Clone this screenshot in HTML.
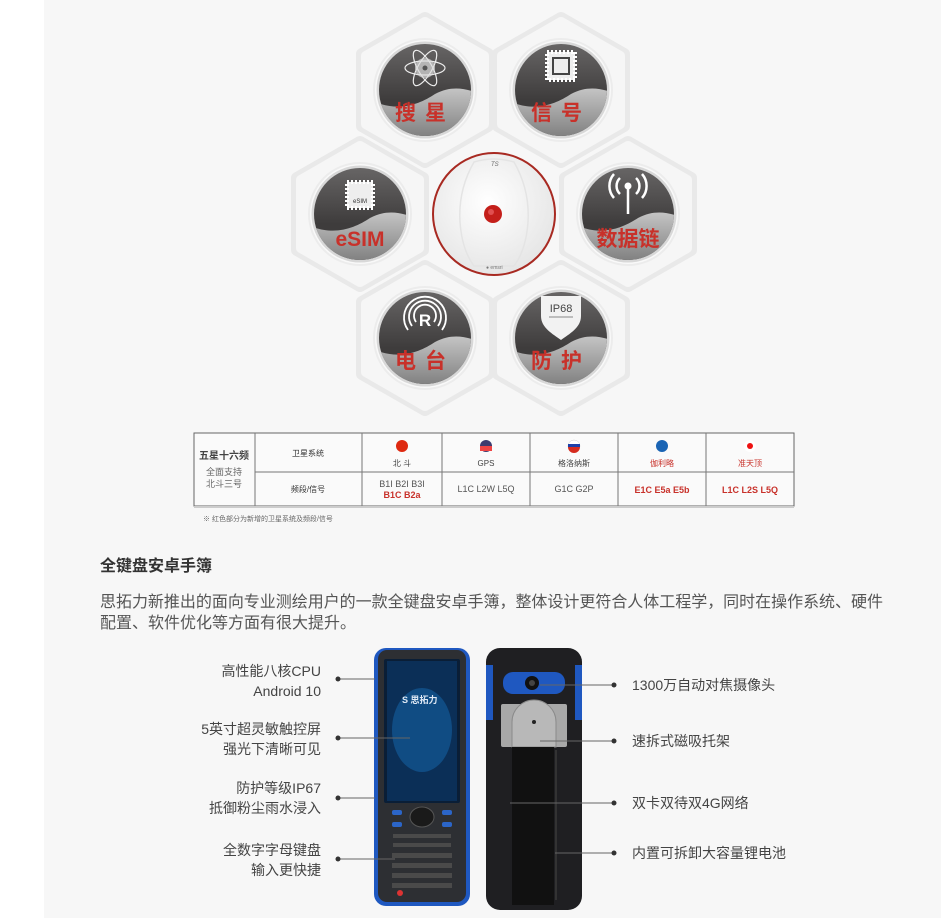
<!DOCTYPE html>
<html><head><meta charset="utf-8">
<style>
html,body{margin:0;padding:0}
body{width:941px;height:918px;overflow:hidden;background:#fff;position:relative;font-family:"Liberation Sans","Noto Sans CJK SC",sans-serif}
#bg{position:absolute;left:44px;top:0;width:897px;height:918px;background:#f7f7f7}
svg{position:absolute;left:0;top:0}
</style></head><body>
<div id="bg"></div>
<svg width="941" height="918" viewBox="0 0 941 918" xmlns="http://www.w3.org/2000/svg" font-family="Liberation Sans, Noto Sans CJK SC, sans-serif">
<defs>
<linearGradient id="darkg" x1="0" y1="0" x2="0" y2="1"><stop offset="0" stop-color="#6a6868"/><stop offset="0.6" stop-color="#3e3c3c"/></linearGradient>
<linearGradient id="lowg" x1="0" y1="0" x2="0" y2="1"><stop offset="0" stop-color="#c4c4c4"/><stop offset="1" stop-color="#7c7c7c"/></linearGradient>
<radialGradient id="devg" cx="0.45" cy="0.4" r="0.6"><stop offset="0" stop-color="#ffffff"/><stop offset="1" stop-color="#e6e6e6"/></radialGradient>
<clipPath id="cc"><circle cx="0" cy="0" r="46"/></clipPath>
<g id="hex"><path d="M0,-72 L63,-36 L63,36 L0,72 L-63,36 L-63,-36 Z" fill="#f1f1f1" stroke="#e9e9e9" stroke-width="12" stroke-linejoin="round"/><path d="M0,-68 L59,-34 L59,34 L0,68 L-59,34 L-59,-34 Z" fill="#f6f6f6" stroke="#f6f6f6" stroke-width="10" stroke-linejoin="round"/></g>
<g id="badge">
<use href="#hex"/>
<circle r="52" fill="#ececec"/>
<circle r="50" fill="#f9f9f9"/>
<circle r="48.5" fill="#d8d8d8"/>
<g clip-path="url(#cc)"><rect x="-50" y="-50" width="100" height="100" fill="url(#darkg)"/>
<path d="M-50,12 C-25,22 -5,14 10,4 C25,-4 38,-2 50,2 L50,50 L-50,50 Z" fill="url(#lowg)"/></g>
</g>
</defs>

<g transform="translate(425,90)"><use href="#badge"/>
<g stroke="#eee" fill="none" stroke-width="1.2"><ellipse cy="-22" rx="20" ry="7"/><ellipse cy="-22" rx="20" ry="7" transform="rotate(60 0 -22)"/><ellipse cy="-22" rx="20" ry="7" transform="rotate(-60 0 -22)"/></g><circle cy="-22" r="10" fill="#ddd" opacity=".7"/><circle cy="-22" r="2.5" fill="#555"/>
<text x="0" y="30" text-anchor="middle" font-size="21" font-weight="bold" fill="#c8312a" letter-spacing="9">搜星</text></g>
<g transform="translate(561,90)"><use href="#badge"/>
<rect x="-14" y="-38" width="28" height="28" fill="#eee" stroke="#fff" stroke-width="4" stroke-dasharray="2 2"/><rect x="-8" y="-32" width="16" height="16" fill="none" stroke="#444" stroke-width="2"/>
<text x="0" y="30" text-anchor="middle" font-size="21" font-weight="bold" fill="#c8312a" letter-spacing="9">信号</text></g>
<g transform="translate(360,214)"><use href="#badge"/>
<rect x="-13" y="-32" width="26" height="26" fill="#eee" stroke="#fff" stroke-width="4" stroke-dasharray="2 2"/><text x="0" y="-11" text-anchor="middle" font-size="6" fill="#333">eSIM</text>
<text x="0" y="32" text-anchor="middle" font-size="21" font-weight="bold" fill="#c8312a">eSIM</text></g>
<g transform="translate(628,214)"><use href="#badge"/>
<g stroke="#fff" fill="none" stroke-width="2.5"><path d="M-8,-36 a11,11 0 0,0 0,16"/><path d="M8,-36 a11,11 0 0,1 0,16"/><path d="M-14,-40 a18,18 0 0,0 0,24"/><path d="M14,-40 a18,18 0 0,1 0,24"/><line x1="0" y1="-28" x2="0" y2="0"/></g><circle cy="-28" r="3.5" fill="#fff"/>
<text x="0" y="32" text-anchor="middle" font-size="21" font-weight="bold" fill="#c8312a">数据链</text></g>
<g transform="translate(425,338)"><use href="#badge"/>
<g stroke="#fff" fill="none" stroke-width="1.8"><path d="M-13,-12 a16,16 0 1,1 26,0"/><path d="M-17,-8 a21,21 0 1,1 34,0"/><path d="M-9,-16 a11,11 0 1,1 18,0"/></g><text x="0" y="-12" text-anchor="middle" font-size="17" font-weight="bold" fill="#fff">R</text>
<text x="0" y="30" text-anchor="middle" font-size="21" font-weight="bold" fill="#c8312a" letter-spacing="9">电台</text></g>
<g transform="translate(561,338)"><use href="#badge"/>
<path d="M-20,-42 L20,-42 L20,-22 C20,-10 8,-4 0,2 C-8,-4 -20,-10 -20,-22 Z" fill="#f2f2f2"/><text x="0" y="-26" text-anchor="middle" font-size="11" fill="#444">IP68</text><line x1="-12" y1="-21" x2="12" y2="-21" stroke="#888"/>
<text x="0" y="30" text-anchor="middle" font-size="21" font-weight="bold" fill="#c8312a" letter-spacing="9">防护</text></g>

<circle cx="494" cy="214" r="61" fill="url(#devg)" stroke="#a82a22" stroke-width="2"/>
<path d="M474,162 Q494,156 514,162 Q530,190 528,222 Q526,250 514,266 L474,266 Q462,250 460,222 Q458,190 474,162 Z" fill="none" stroke="#e4e4e4" stroke-width="1.5"/>
<circle cx="493" cy="214" r="9" fill="#c41f1a"/><circle cx="491" cy="212" r="3" fill="#e05050"/>
<text x="491" y="166" font-size="6" font-style="italic" fill="#666">TS</text>
<text x="486" y="269" font-size="5" fill="#777">● emsri</text>

<g>
<rect x="194" y="433" width="600" height="73" fill="#fafafa" stroke="#666" stroke-width="1"/>
<g stroke="#777" stroke-width="1"><line x1="255" y1="433" x2="255" y2="506"/><line x1="362" y1="433" x2="362" y2="506"/><line x1="442" y1="433" x2="442" y2="506"/><line x1="530" y1="433" x2="530" y2="506"/><line x1="618" y1="433" x2="618" y2="506"/><line x1="706" y1="433" x2="706" y2="506"/><line x1="255" y1="472" x2="794" y2="472"/></g>
<line x1="194" y1="507" x2="794" y2="507" stroke="#ccc" stroke-width="2"/>
<text x="224" y="459" text-anchor="middle" font-size="10" font-weight="bold" fill="#444">五星十六频</text>
<text x="224" y="475" text-anchor="middle" font-size="9" fill="#666">全面支持</text>
<text x="224" y="487" text-anchor="middle" font-size="9" fill="#666">北斗三号</text>
<text x="308" y="456" text-anchor="middle" font-size="8" fill="#333">卫星系统</text>
<text x="308" y="492" text-anchor="middle" font-size="8" fill="#333">频段/信号</text>
<circle cx="402" cy="446" r="6" fill="#de2910"/>
<circle cx="486" cy="446" r="6" fill="#3c3b6e"/><rect x="480" y="446" width="12" height="5" fill="#e44"/>
<circle cx="574" cy="446" r="6" fill="#fff" stroke="#ccc" stroke-width=".5"/><rect x="568" y="444" width="12" height="3" fill="#1c3fa8"/><path d="M568,447 h12 a6,6 0 0,1 -12,0z" fill="#d52b1e"/>
<circle cx="662" cy="446" r="6" fill="#1a64b4"/>
<circle cx="750" cy="446" r="6" fill="#fff"/><circle cx="750" cy="446" r="3" fill="#e11"/>
<text x="402" y="466" text-anchor="middle" font-size="8" fill="#444">北 斗</text>
<text x="486" y="466" text-anchor="middle" font-size="8" fill="#444">GPS</text>
<text x="574" y="466" text-anchor="middle" font-size="8" fill="#444">格洛纳斯</text>
<text x="662" y="466" text-anchor="middle" font-size="8" fill="#c8312a">伽利略</text>
<text x="750" y="466" text-anchor="middle" font-size="8" fill="#c8312a">准天顶</text>
<text x="402" y="487" text-anchor="middle" font-size="9" fill="#555">B1I B2I B3I</text>
<text x="402" y="498" text-anchor="middle" font-size="9" font-weight="bold" fill="#c8312a">B1C B2a</text>
<text x="486" y="492" text-anchor="middle" font-size="9" fill="#555">L1C L2W L5Q</text>
<text x="574" y="492" text-anchor="middle" font-size="9" fill="#555">G1C G2P</text>
<text x="662" y="493" text-anchor="middle" font-size="9" font-weight="bold" fill="#c8312a">E1C E5a E5b</text>
<text x="750" y="493" text-anchor="middle" font-size="9" font-weight="bold" fill="#c8312a">L1C L2S L5Q</text>
<text x="203" y="521" font-size="7" fill="#666">※   红色部分为新增的卫星系统及频段/信号</text>
</g>

<text x="100" y="571" font-size="16" font-weight="bold" fill="#333">全键盘安卓手簿</text>
<text x="100" y="607" font-size="16" fill="#555" textLength="783">思拓力新推出的面向专业测绘用户的一款全键盘安卓手簿，整体设计更符合人体工程学，同时在操作系统、硬件</text>
<text x="100" y="628" font-size="16" fill="#555">配置、软件优化等方面有很大提升。</text>

<rect x="374" y="648" width="96" height="258" rx="12" fill="#1f58c0"/>
<rect x="378" y="650" width="88" height="252" rx="9" fill="#2d2f33"/>
<rect x="384" y="659" width="76" height="144" rx="2" fill="#0a1e36"/>
<rect x="387" y="661" width="70" height="140" fill="#0b2f57"/>
<ellipse cx="422" cy="730" rx="30" ry="42" fill="#1565a8" opacity=".55"/>
<text x="402" y="703" font-size="9" font-weight="bold" fill="#dfe9f5">S 思拓力</text>
<ellipse cx="422" cy="817" rx="12" ry="10" fill="#1a1a1a" stroke="#555"/>
<g fill="#2b65c8"><rect x="392" y="810" width="10" height="5" rx="2"/><rect x="392" y="822" width="10" height="5" rx="2"/><rect x="442" y="810" width="10" height="5" rx="2"/><rect x="442" y="822" width="10" height="5" rx="2"/></g>
<g fill="#4a4a4a">
<rect x="393" y="834" width="58" height="4"/><rect x="393" y="843" width="58" height="4"/><rect x="392" y="853" width="60" height="5"/><rect x="392" y="863" width="60" height="5"/><rect x="392" y="873" width="60" height="5"/><rect x="392" y="883" width="60" height="5"/></g>
<circle cx="400" cy="893" r="3" fill="#d33"/>

<rect x="486" y="648" width="96" height="262" rx="14" fill="#1f1f22"/>
<rect x="486" y="665" width="7" height="55" fill="#1f58c0"/><rect x="575" y="665" width="7" height="55" fill="#1f58c0"/>
<rect x="503" y="672" width="62" height="22" rx="10" fill="#1f58c0"/>
<circle cx="532" cy="683" r="7" fill="#111"/><circle cx="532" cy="683" r="3" fill="#444"/>
<rect x="501" y="704" width="66" height="43" rx="2" fill="#a8a8a8"/>
<path d="M512,747 V722 a16,16 0 0,1 44,0 V747 Z" fill="#b8b8b8" stroke="#8a8a8a"/>
<circle cx="534" cy="722" r="2" fill="#222"/>
<rect x="512" y="747" width="42" height="158" fill="#111"/>
<line x1="556" y1="750" x2="556" y2="900" stroke="#333" stroke-width="2"/>

<g stroke="#666" stroke-width="1"><line x1="338" y1="679" x2="375" y2="679"/><line x1="338" y1="738" x2="410" y2="738"/><line x1="338" y1="798" x2="375" y2="798"/><line x1="338" y1="859" x2="395" y2="859"/>
<line x1="540" y1="685" x2="614" y2="685"/><line x1="540" y1="741" x2="614" y2="741"/><line x1="510" y1="803" x2="614" y2="803"/><line x1="555" y1="853" x2="614" y2="853"/></g>
<g fill="#333"><circle cx="338" cy="679" r="2.5"/><circle cx="338" cy="738" r="2.5"/><circle cx="338" cy="798" r="2.5"/><circle cx="338" cy="859" r="2.5"/><circle cx="614" cy="685" r="2.5"/><circle cx="614" cy="741" r="2.5"/><circle cx="614" cy="803" r="2.5"/><circle cx="614" cy="853" r="2.5"/></g>
<g font-size="14" fill="#444" text-anchor="end">
<text x="321" y="676">高性能八核CPU</text><text x="321" y="696">Android 10</text>
<text x="321" y="734">5英寸超灵敏触控屏</text><text x="321" y="754">强光下清晰可见</text>
<text x="321" y="793">防护等级IP67</text><text x="321" y="813">抵御粉尘雨水浸入</text>
<text x="321" y="855">全数字字母键盘</text><text x="321" y="875">输入更快捷</text>
</g>
<g font-size="14" fill="#444">
<text x="632" y="690">1300万自动对焦摄像头</text>
<text x="632" y="746">速拆式磁吸托架</text>
<text x="632" y="808">双卡双待双4G网络</text>
<text x="632" y="858">内置可拆卸大容量锂电池</text>
</g>
</svg>
</body></html>
